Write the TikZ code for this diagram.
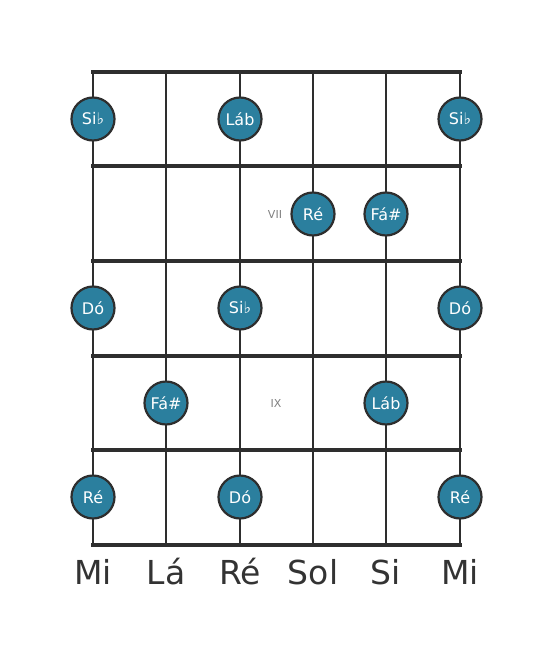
\documentclass[tikz,border=0pt]{standalone}
\usepackage{fontspec}
\setmainfont{DejaVu Sans}
\definecolor{dotfill}{HTML}{2B7F9E}
\definecolor{linec}{HTML}{2E2E2E}
\definecolor{labc}{HTML}{333333}
\begin{document}
\begin{tikzpicture}[x=1pt,y=-1pt,
  fret/.style={line width=4pt,color=linec,line cap=rect},
  str/.style={line width=2.6pt,color=linec},
  note/.style={circle,minimum size=43pt,inner sep=0pt,fill=dotfill,draw=linec,line width=2.2pt,text=white,font=\fontsize{16}{16}\selectfont},
  strlab/.style={text=labc,font=\fontsize{33}{33}\selectfont},
  fretnum/.style={text=gray,font=\fontsize{11}{11}\selectfont}]
\useasboundingbox (0,0) rectangle (553,656);
% strings
\foreach \x/\n in {93/1,166/2,240/3,313/4,386/5,460/6}{
  \coordinate (t\n) at (\x,72);
  \coordinate (b\n) at (\x,545);
  \draw[str] (t\n) -- (b\n);
}
% frets
\foreach \y/\n in {72/0,166/1,261/2,356/3,450/4,545/5}{
  \coordinate (fl\n) at (93,\y);
  \coordinate (fr\n) at (460,\y);
  \draw[fret] (fl\n) -- (fr\n);
}
% labels
\foreach \x/\t/\n in {93/Mi/l1,166/Lá/l2,240/Ré/l3,313/Sol/l4,386/Si/l5,460/Mi/l6}{
  \node[strlab] (\n) at (\x,572) {\t};
}
\node[fretnum] (p7) at (275,214) {VII};
\node[fretnum] (p9) at (276,403) {IX};
% notes
\node[note] (n11) at (93,119) {Si♭};
\node[note] (n13) at (240,119) {Láb};
\node[note] (n16) at (460,119) {Si♭};
\node[note] (n24) at (313,214) {Ré};
\node[note] (n25) at (386,214) {Fá\#};
\node[note] (n31) at (93,308) {Dó};
\node[note] (n33) at (240,308) {Si♭};
\node[note] (n36) at (460,308) {Dó};
\node[note] (n42) at (166,403) {Fá\#};
\node[note] (n45) at (386,403) {Láb};
\node[note] (n51) at (93,497) {Ré};
\node[note] (n53) at (240,497) {Dó};
\node[note] (n56) at (460,497) {Ré};
\end{tikzpicture}
\end{document}
